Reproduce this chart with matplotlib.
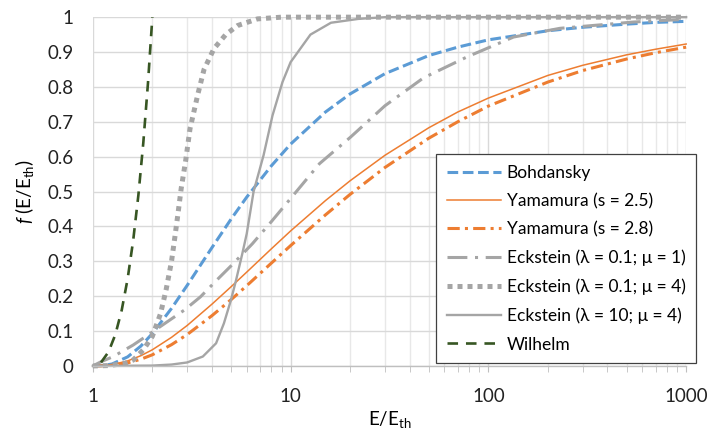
import matplotlib
matplotlib.use("Agg")
import matplotlib.pyplot as plt
from matplotlib.ticker import FixedLocator, NullFormatter

plt.rcParams["font.family"] = ["Lato", "DejaVu Sans"]
plt.rcParams["mathtext.fontset"] = "custom"
plt.rcParams["mathtext.rm"] = "Lato"
plt.rcParams["mathtext.it"] = "Lato:italic"

# values
E_grid = [1, 1.1, 1.25, 1.5, 1.75, 2, 2.5, 3, 4, 5, 6, 8, 10, 15, 20, 30,
          50, 70, 100, 200, 300, 500, 700, 1000]
bohdansky = [0, 0.0005, 0.0055, 0.026, 0.057, 0.093, 0.165, 0.231, 0.339,
             0.421, 0.484, 0.574, 0.636, 0.728, 0.780, 0.838, 0.890, 0.914,
             0.935, 0.961, 0.971, 0.980, 0.985, 0.988]
yamamura_25 = [0, 0.0005, 0.0036, 0.0144, 0.0294, 0.0464, 0.082, 0.116,
               0.177, 0.227, 0.269, 0.336, 0.387, 0.474, 0.531, 0.604, 0.683,
               0.728, 0.768, 0.833, 0.862, 0.892, 0.908, 0.923]
yamamura_28 = [0, 0.0002, 0.0018, 0.0087, 0.0193, 0.032, 0.061, 0.090,
               0.144, 0.190, 0.230, 0.295, 0.345, 0.433, 0.492, 0.569, 0.653,
               0.700, 0.745, 0.814, 0.847, 0.880, 0.898, 0.914]

E_eck1 = [1, 1.1, 1.27, 1.6, 1.95, 2.5, 2.9, 3.5, 4.3, 5, 6.4, 8, 10, 14, 20,
          30, 47, 78, 134, 230, 540, 1000]
eckstein_01_1 = [0, 0.012, 0.027, 0.06, 0.093, 0.135, 0.16, 0.198, 0.25,
                 0.287, 0.35, 0.414, 0.48, 0.58, 0.655, 0.746, 0.826, 0.886,
                 0.943, 0.968, 0.986, 0.994]

E_eck2 = [1, 1.2, 1.45, 1.6, 1.8, 2.0, 2.2, 2.35, 2.5, 2.6, 2.7, 2.8, 2.95,
          3.1, 3.4, 3.65, 4.1, 4.7, 5.4, 6.8, 9, 20, 100, 1000]
eckstein_01_4 = [0, 0.001, 0.007, 0.017, 0.046, 0.085, 0.15, 0.22, 0.30,
                 0.37, 0.44, 0.51, 0.59, 0.68, 0.78, 0.85, 0.91, 0.95, 0.976,
                 0.995, 1.0, 1.0, 1.0, 1.0]

E_eck3 = [1, 2, 2.5, 3.0, 3.6, 4.2, 4.6, 5.0, 5.3, 5.7, 6.0, 6.5, 7.3, 8.1,
          9.1, 10, 12.6, 16, 22, 30, 100, 1000]
eckstein_10_4 = [0, 0.001, 0.004, 0.01, 0.027, 0.065, 0.122, 0.19, 0.246,
                 0.322, 0.379, 0.5, 0.604, 0.718, 0.814, 0.871, 0.95, 0.984,
                 0.995, 1.0, 1.0, 1.0]

E_wilhelm = [1.1, 1.2, 1.3, 1.4, 1.5, 1.6, 1.7, 1.8, 1.9, 2.0]
wilhelm = [0.01, 0.04, 0.09, 0.16, 0.25, 0.36, 0.49, 0.64, 0.81, 1.0]

x_ticks = [1, 10, 100, 1000]
x_ticklabels = ["1", "10", "100", "1000"]
y_ticks = [0, 0.1, 0.2, 0.3, 0.4, 0.5, 0.6, 0.7, 0.8, 0.9, 1.0]
y_ticklabels = ["0", "0.1", "0.2", "0.3", "0.4", "0.5", "0.6", "0.7", "0.8",
                "0.9", "1"]

BLUE = "#5B9BD5"
ORANGE = "#ED7D31"
GRAY = "#A5A5A5"
GREEN = "#375623"

fig = plt.figure(figsize=(7.14, 4.29), dpi=100)
ax = fig.add_axes([0.130, 0.147, 0.831, 0.813])

ax.plot(E_grid, bohdansky, color=BLUE, lw=2.2, dashes=(3.5, 1.5),
        label="Bohdansky", clip_on=False)
ax.plot(E_grid, yamamura_25, color=ORANGE, lw=1.1,
        label="Yamamura (s = 2.5)", clip_on=False)
ax.plot(E_grid, yamamura_28, color=ORANGE, lw=2.2, dashes=(4, 1.7, 1, 1.7),
        label="Yamamura (s = 2.8)", clip_on=False)
ax.plot(E_eck1, eckstein_01_1, color=GRAY, lw=2.2, dashes=(6.5, 2.5, 1, 2.5),
        label="Eckstein (λ = 0.1; μ = 1)", clip_on=False)
ax.plot(E_eck2, eckstein_01_4, color=GRAY, lw=3.6, dashes=(1, 1),
        dash_capstyle="butt", label="Eckstein (λ = 0.1; μ = 4)", clip_on=False)
ax.plot(E_eck3, eckstein_10_4, color=GRAY, lw=1.7,
        label="Eckstein (λ = 10; μ = 4)", clip_on=False)
ax.plot(E_wilhelm, wilhelm, color=GREEN, lw=1.9, dashes=(4, 3),
        label="Wilhelm", clip_on=False)

ax.set_xscale("log")
ax.set_xlim(1, 1000)
ax.set_ylim(0, 1)

ax.xaxis.set_major_locator(FixedLocator(x_ticks))
ax.set_xticklabels(x_ticklabels)
minors = [m * d for d in (1, 10, 100) for m in range(2, 10)]
ax.xaxis.set_minor_locator(FixedLocator(minors))
ax.xaxis.set_minor_formatter(NullFormatter())
ax.set_yticks(y_ticks)
ax.set_yticklabels(y_ticklabels)

ax.grid(True, which="major", color="#D9D9D9", lw=1)
ax.grid(True, which="minor", axis="x", color="#E8E8E8", lw=1)
ax.set_axisbelow(True)

for side in ("top", "right", "left"):
    ax.spines[side].set_visible(False)
ax.spines["bottom"].set_color("#BFBFBF")
ax.spines["bottom"].set_linewidth(1)

ax.tick_params(axis="y", length=0, pad=14, labelsize=13.5, labelcolor="#222222")
ax.tick_params(axis="x", which="both", direction="out", length=4,
               color="#BFBFBF", pad=12, labelsize=13.5, labelcolor="#222222")

ax.set_xlabel("E/E$_{\\mathrm{th}}$", fontsize=13.5, labelpad=3)
ax.set_ylabel("$f$ (E/E$_{\\mathrm{th}}$)", fontsize=13.5, labelpad=8)

leg = ax.legend(loc="upper left", bbox_to_anchor=(0.579, 0.607),
                fontsize=12.5, frameon=True, fancybox=False, framealpha=1,
                edgecolor="#404040", handlelength=3.1, handletextpad=0.35,
                labelspacing=0.71, borderpad=0.6, borderaxespad=0)
leg.get_frame().set_linewidth(0.9)
leg.set_zorder(10)

fig.savefig("out.png", dpi=100)
